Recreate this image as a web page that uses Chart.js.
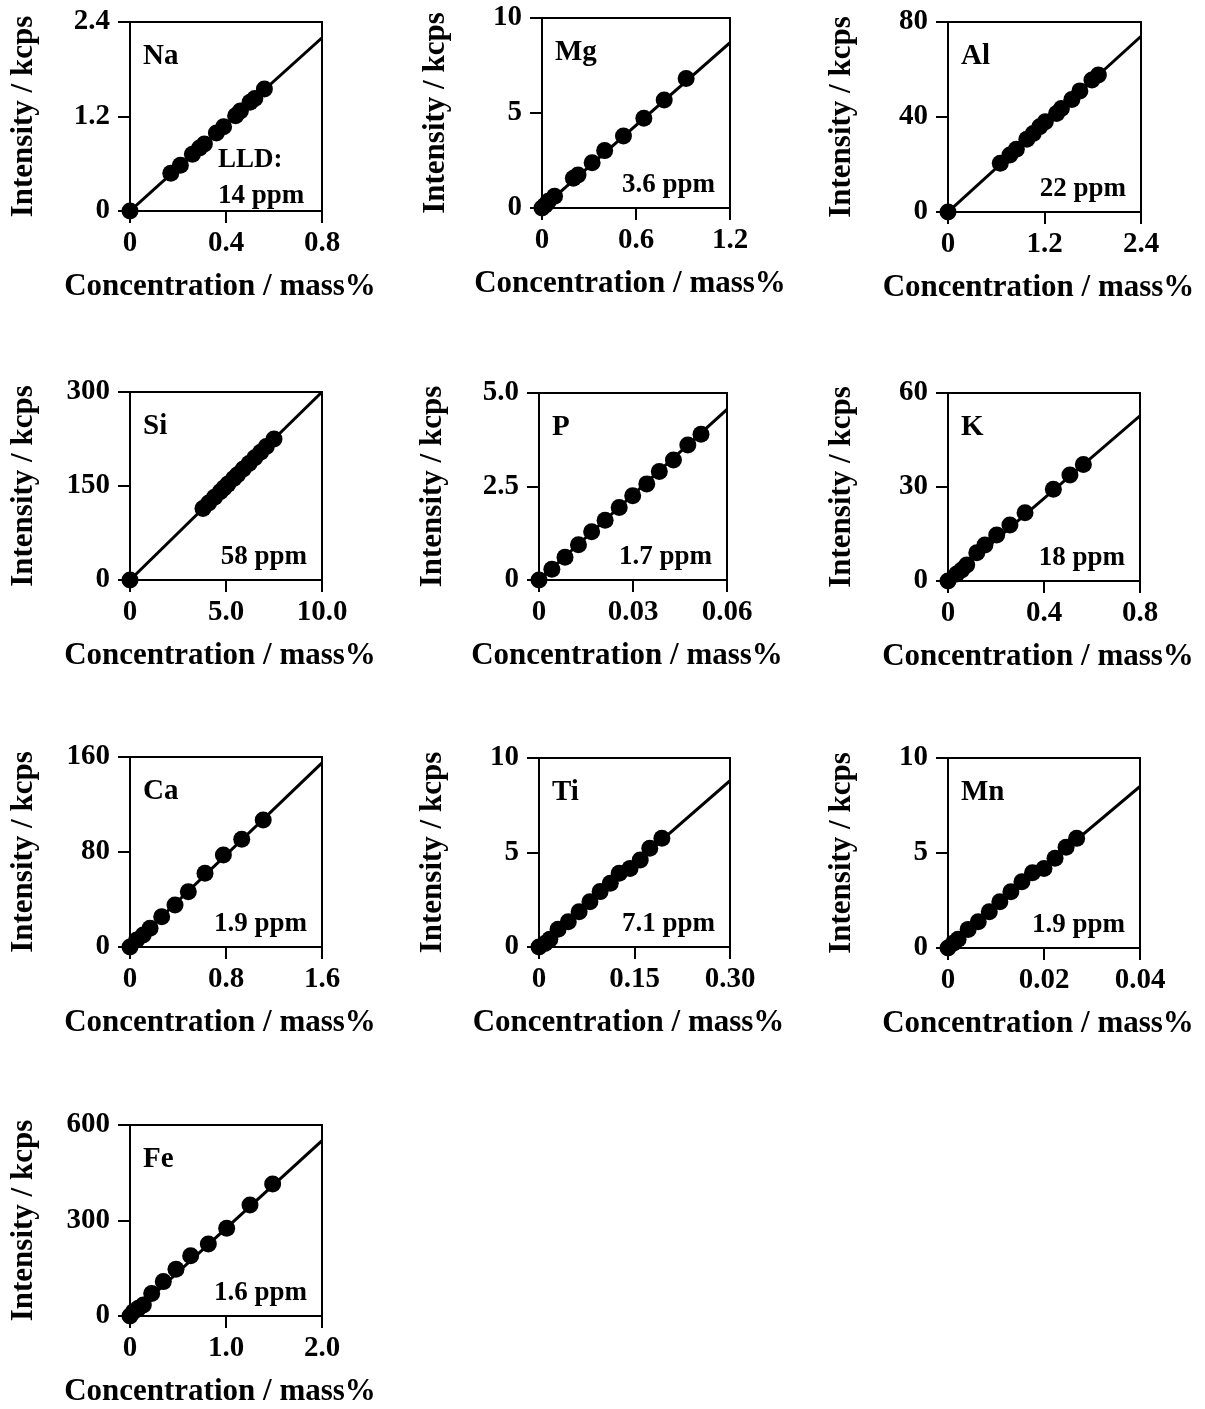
<!DOCTYPE html>
<html>
<head>
<meta charset="utf-8">
<script src="https://cdn.jsdelivr.net/npm/chart.js@4.4.1/dist/chart.umd.min.js"></script>
<style>
  body { margin: 0; background: #fff; }
  #page { position: relative; width: 1205px; height: 1409px; overflow: hidden; }
  .panel { position: absolute; }
</style>
</head>
<body>
<div id="page"></div>
<script>
// --- Data ---
const elements = ["Na", "Mg", "Al", "Si", "P", "K", "Ca", "Ti", "Mn", "Fe"];
const lldLabels = ["14 ppm", "3.6 ppm", "22 ppm", "58 ppm", "1.7 ppm", "18 ppm", "1.9 ppm", "7.1 ppm", "1.9 ppm", "1.6 ppm"];
const xTitle = "Concentration / mass%";
const yTitle = "Intensity / kcps";

const xTickLabels = [
  ["0", "0.4", "0.8"], ["0", "0.6", "1.2"], ["0", "1.2", "2.4"],
  ["0", "5.0", "10.0"], ["0", "0.03", "0.06"], ["0", "0.4", "0.8"],
  ["0", "0.8", "1.6"], ["0", "0.15", "0.30"], ["0", "0.02", "0.04"],
  ["0", "1.0", "2.0"]
];
const yTickLabels = [
  ["0", "1.2", "2.4"], ["0", "5", "10"], ["0", "40", "80"],
  ["0", "150", "300"], ["0", "2.5", "5.0"], ["0", "30", "60"],
  ["0", "80", "160"], ["0", "5", "10"], ["0", "5", "10"],
  ["0", "300", "600"]
];

// calibration line: intensity at the right edge of each plot
const fitEnd = [2.2, 8.7, 74, 300, 4.56, 52.7, 155, 8.8, 8.5, 551];

const naX = [0, 0.17, 0.21, 0.26, 0.29, 0.31, 0.36, 0.39, 0.44, 0.46, 0.50, 0.52, 0.56];
const naY = [0, 0.48, 0.58, 0.72, 0.80, 0.85, 0.99, 1.07, 1.21, 1.27, 1.38, 1.43, 1.55];
const mgX = [0, 0.02, 0.04, 0.08, 0.20, 0.23, 0.32, 0.40, 0.52, 0.65, 0.78, 0.92];
const mgY = [0, 0.15, 0.35, 0.62, 1.56, 1.74, 2.38, 3.02, 3.79, 4.72, 5.68, 6.82];
const alX = [0, 0.65, 0.77, 0.85, 0.98, 1.06, 1.14, 1.21, 1.35, 1.41, 1.54, 1.64, 1.79, 1.87];
const alY = [0, 20.5, 24, 26.4, 30.6, 33.1, 35.9, 38, 41.5, 43.6, 47.4, 51, 55.6, 57.7];
const siX = [0, 3.8, 4.1, 4.4, 4.7, 4.9, 5.1, 5.4, 5.6, 5.9, 6.2, 6.5, 6.8, 7.1, 7.5];
const siY = [0, 114, 123, 132, 141, 147, 153, 162, 168, 177, 186, 195, 204, 213, 225];
const pX = [0, 0.0041, 0.0083, 0.0126, 0.0168, 0.0211, 0.0256, 0.0299, 0.0344, 0.0384, 0.0429, 0.0475, 0.0517];
const pY = [0, 0.29, 0.61, 0.94, 1.29, 1.60, 1.94, 2.25, 2.57, 2.90, 3.21, 3.61, 3.90];
const kX = [0, 0.036, 0.057, 0.078, 0.12, 0.154, 0.203, 0.258, 0.321, 0.439, 0.508, 0.564];
const kY = [0, 2.2, 3.5, 5.1, 9.0, 11.5, 14.7, 17.9, 21.8, 29.3, 33.8, 37.2];
const caX = [0, 0.056, 0.11, 0.167, 0.264, 0.375, 0.486, 0.625, 0.778, 0.931, 1.11];
const caY = [0, 5.9, 10.1, 15.7, 25.5, 35.4, 46.6, 62.1, 77.5, 90.7, 107];
const tiX = [0, 0.0094, 0.017, 0.030, 0.046, 0.063, 0.080, 0.096, 0.112, 0.126, 0.143, 0.159, 0.174, 0.193];
const tiY = [0, 0.19, 0.41, 0.94, 1.34, 1.87, 2.40, 2.93, 3.37, 3.90, 4.16, 4.60, 5.22, 5.75];
const mnX = [0, 0.0011, 0.0021, 0.0042, 0.0063, 0.0086, 0.0108, 0.0131, 0.0154, 0.0176, 0.0200, 0.0223, 0.0246, 0.0268];
const mnY = [0, 0.25, 0.46, 0.98, 1.38, 1.91, 2.44, 2.96, 3.49, 3.96, 4.19, 4.72, 5.30, 5.77];
const feX = [0, 0.035, 0.087, 0.139, 0.226, 0.347, 0.479, 0.632, 0.816, 1.007, 1.25, 1.486];
const feY = [0, 13.5, 24, 34.6, 71, 108, 147, 189, 226, 276, 349, 415];

const seriesX = [naX, mgX, alX, siX, pX, kX, caX, tiX, mnX, feX];
const seriesY = [naY, mgY, alY, siY, pY, kY, caY, tiY, mnY, feY];

// --- Layout: plot area [left, top, width, height] of each panel ---
const plotBoxes = [
  [130, 22, 192, 189], [542, 18, 188, 190], [948, 22, 193, 190],
  [130, 392, 192, 188], [539, 393, 188, 187], [948, 393, 192, 188],
  [130, 757, 192, 190], [539, 758, 191, 189], [948, 758, 192, 190],
  [130, 1125, 192, 191]
];
const AXIS_W = 130, AXIS_H = 100, PAD_T = 18, PAD_R = 70;
const FONT = "'Liberation Serif', 'Times New Roman', serif";
const tickFont = { family: FONT, size: 29, weight: "bold" };

// frame, axis titles and in-plot labels
const panelText = {
  id: "panelText",
  beforeDatasetsDraw(chart) {
    const { ctx, chartArea: a } = chart;
    ctx.save();
    ctx.strokeStyle = "#000";
    ctx.lineWidth = 2;
    ctx.strokeRect(a.left, a.top, a.right - a.left, a.bottom - a.top);
    ctx.restore();
  },
  afterDraw(chart) {
    const { ctx, chartArea: a } = chart;
    const i = chart.options.plugins.panelText.index;
    ctx.save();
    ctx.fillStyle = "#000";

    // axis titles
    ctx.font = `bold 31px ${FONT}`;
    ctx.textAlign = "center";
    ctx.textBaseline = "middle";
    ctx.fillText(xTitle, (a.left + a.right) / 2 - 6, a.bottom + 76);
    ctx.save();
    ctx.translate(a.left - 106, (a.top + a.bottom) / 2);
    ctx.rotate(-Math.PI / 2);
    ctx.fillText(yTitle, 0, 0);
    ctx.restore();

    // element + detection limit
    ctx.textBaseline = "alphabetic";
    ctx.font = `bold 29px ${FONT}`;
    ctx.textAlign = "left";
    ctx.fillText(elements[i], a.left + 13, a.top + 42);
    ctx.font = `bold 27px ${FONT}`;
    if (i === 0) {
      ctx.fillText("LLD:", a.left + 88, a.bottom - 44);
      ctx.fillText(lldLabels[i], a.left + 88, a.bottom - 8);
    } else {
      ctx.textAlign = "right";
      ctx.fillText(lldLabels[i], a.right - 15, a.bottom - 16);
    }
    ctx.restore();
  }
};

function makePanel(i) {
  const [pl, pt, pw, ph] = plotBoxes[i];
  const div = document.createElement("div");
  div.className = "panel";
  div.style.left = (pl - AXIS_W) + "px";
  div.style.top = (pt - PAD_T) + "px";
  const canvas = document.createElement("canvas");
  canvas.width = AXIS_W + pw + PAD_R;
  canvas.height = PAD_T + ph + AXIS_H;
  div.appendChild(canvas);
  document.getElementById("page").appendChild(div);

  const xTicks = xTickLabels[i].map(parseFloat);
  const yTicks = yTickLabels[i].map(parseFloat);
  const xMax = xTicks[xTicks.length - 1];
  const yMax = yTicks[yTicks.length - 1];
  const points = seriesX[i].map((x, k) => ({ x, y: seriesY[i][k] }));

  new Chart(canvas.getContext("2d"), {
    type: "scatter",
    data: {
      datasets: [
        {
          data: points,
          backgroundColor: "#000",
          borderWidth: 0,
          pointRadius: 8.5,
          clip: false
        },
        {
          data: [{ x: 0, y: 0 }, { x: xMax, y: fitEnd[i] }],
          showLine: true,
          borderColor: "#000",
          borderWidth: 3,
          pointRadius: 0
        }
      ]
    },
    options: {
      responsive: false,
      animation: false,
      events: [],
      layout: { padding: { top: PAD_T, right: PAD_R, left: 0, bottom: 0 } },
      plugins: {
        legend: { display: false },
        tooltip: { enabled: false },
        panelText: { index: i }
      },
      scales: {
        x: {
          type: "linear",
          min: 0,
          max: xMax,
          afterBuildTicks: s => { s.ticks = xTicks.map(v => ({ value: v })); },
          afterFit: s => { s.height = AXIS_H; s.paddingLeft = 0; s.paddingRight = 0; },
          ticks: {
            callback: (v, idx) => xTickLabels[i][idx],
            font: tickFont, color: "#000", padding: 3,
            maxRotation: 0, autoSkip: false
          },
          grid: { drawOnChartArea: false, tickLength: 12, color: "#000", lineWidth: 2 },
          border: { display: true, color: "#000", width: 2 }
        },
        y: {
          type: "linear",
          min: 0,
          max: yMax,
          afterBuildTicks: s => { s.ticks = yTicks.map(v => ({ value: v })); },
          afterFit: s => { s.width = AXIS_W; s.paddingTop = 0; s.paddingBottom = 0; },
          ticks: {
            callback: (v, idx) => yTickLabels[i][idx],
            font: tickFont, color: "#000", padding: 8, autoSkip: false
          },
          grid: { drawOnChartArea: false, tickLength: 12, color: "#000", lineWidth: 2 },
          border: { display: true, color: "#000", width: 2 }
        }
      }
    },
    plugins: [panelText]
  });
}

elements.forEach((el, i) => makePanel(i));
</script>
</body>
</html>
